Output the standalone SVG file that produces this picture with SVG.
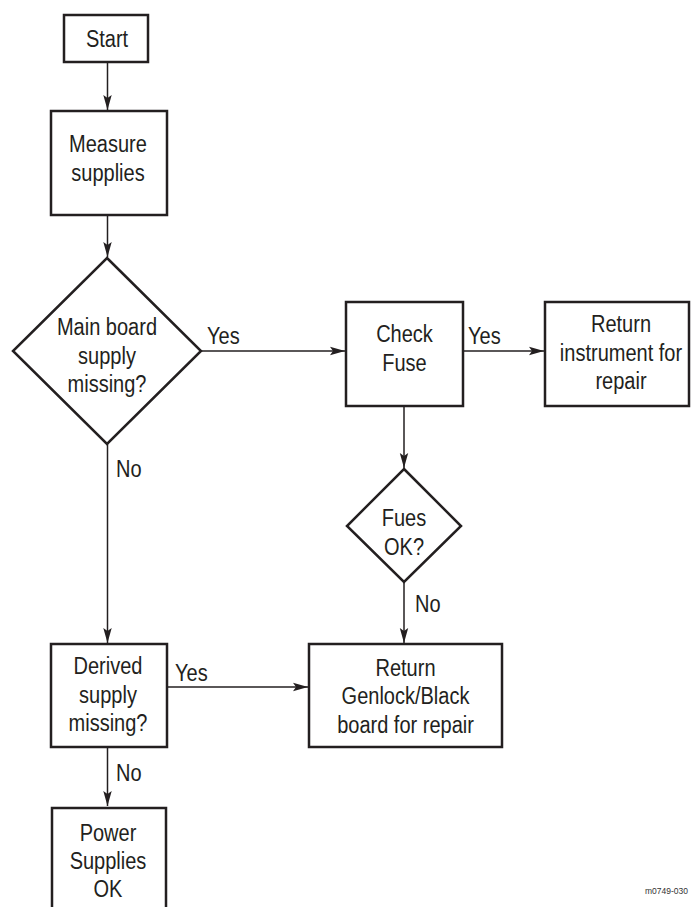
<svg xmlns="http://www.w3.org/2000/svg" width="691" height="907" viewBox="0 0 691 907">
<style>
.box{fill:#fff;stroke:#231f20;stroke-width:2.5}
text{font-family:"Liberation Sans",Arial,sans-serif;font-size:23px;fill:#231f20}
.t{text-anchor:middle}
.c{fill:none;stroke:#231f20;stroke-width:1.5}
</style>
<defs>
<marker id="ah" markerWidth="16" markerHeight="10" refX="15" refY="5" orient="auto" markerUnits="userSpaceOnUse">
<path d="M0,0.8 L15,5 L0,9.2 L3,5 Z" fill="#231f20"/>
</marker>
</defs>
<rect width="691" height="907" fill="#fff"/>
<g id="connectors">
<line class="c" x1="107.5" y1="62" x2="107.5" y2="110" marker-end="url(#ah)"/>
<line class="c" x1="107.5" y1="215" x2="107.5" y2="257" marker-end="url(#ah)"/>
<line class="c" x1="201" y1="351" x2="345" y2="351" marker-end="url(#ah)"/>
<line class="c" x1="463" y1="351" x2="544" y2="351" marker-end="url(#ah)"/>
<line class="c" x1="404" y1="406" x2="404" y2="468" marker-end="url(#ah)"/>
<line class="c" x1="404" y1="582" x2="404" y2="643" marker-end="url(#ah)"/>
<line class="c" x1="107.5" y1="444" x2="107.5" y2="643" marker-end="url(#ah)"/>
<line class="c" x1="167" y1="687" x2="308" y2="687" marker-end="url(#ah)"/>
<line class="c" x1="107.5" y1="747" x2="107.5" y2="806" marker-end="url(#ah)"/>
<text transform="matrix(0.87,0,0,1,207,344)">Yes</text>
<text transform="matrix(0.87,0,0,1,468,344)">Yes</text>
<text transform="matrix(0.87,0,0,1,116,477)">No</text>
<text transform="matrix(0.87,0,0,1,415,612)">No</text>
<text transform="matrix(0.87,0,0,1,175,681)">Yes</text>
<text transform="matrix(0.87,0,0,1,116,781)">No</text>
</g>
<g id="start">
<rect class="box" x="64" y="15" width="84" height="47"/>
<g transform="matrix(0.87,0,0,1,107,0)"><text class="t" x="0" y="47">Start</text></g>
</g>
<g id="measure">
<rect class="box" x="51" y="111" width="116" height="104"/>
<g transform="matrix(0.87,0,0,1,108,0)">
<text class="t" x="0" y="152">Measure</text>
<text class="t" x="0" y="181">supplies</text>
</g>
</g>
<g id="main-board">
<polygon class="box" points="107,258 201,351 107,444 13,351"/>
<g transform="matrix(0.87,0,0,1,107,0)">
<text class="t" x="0" y="335">Main board</text>
<text class="t" x="0" y="364">supply</text>
<text class="t" x="0" y="392">missing?</text>
</g>
</g>
<g id="check-fuse">
<rect class="box" x="346" y="302" width="117" height="104"/>
<g transform="matrix(0.87,0,0,1,404.5,0)">
<text class="t" x="0" y="342">Check</text>
<text class="t" x="0" y="371">Fuse</text>
</g>
</g>
<g id="return-instrument">
<rect class="box" x="545" y="302" width="144" height="104"/>
<g transform="matrix(0.87,0,0,1,621,0)">
<text class="t" x="0" y="332">Return</text>
<text class="t" x="0" y="361">instrument for</text>
<text class="t" x="0" y="389">repair</text>
</g>
</g>
<g id="fuse-ok">
<polygon class="box" points="404,469 461,526 404,582 347,526"/>
<g transform="matrix(0.87,0,0,1,404,0)">
<text class="t" x="0" y="526">Fues</text>
<text class="t" x="0" y="555">OK?</text>
</g>
</g>
<g id="return-genlock">
<rect class="box" x="309" y="644" width="193" height="103"/>
<g transform="matrix(0.87,0,0,1,405.5,0)">
<text class="t" x="0" y="676">Return</text>
<text class="t" x="0" y="704">Genlock/Black</text>
<text class="t" x="0" y="733">board for repair</text>
</g>
</g>
<g id="derived">
<rect class="box" x="51" y="644" width="116" height="103"/>
<g transform="matrix(0.87,0,0,1,108,0)">
<text class="t" x="0" y="674">Derived</text>
<text class="t" x="0" y="703">supply</text>
<text class="t" x="0" y="731">missing?</text>
</g>
</g>
<g id="power-ok">
<rect class="box" x="52" y="808" width="114" height="110"/>
<g transform="matrix(0.87,0,0,1,108,0)">
<text class="t" x="0" y="841">Power</text>
<text class="t" x="0" y="869">Supplies</text>
<text class="t" x="0" y="897">OK</text>
</g>
</g>
<text x="645" y="894" style="font-size:8.5px;fill:#333">m0749-030</text>
</svg>
